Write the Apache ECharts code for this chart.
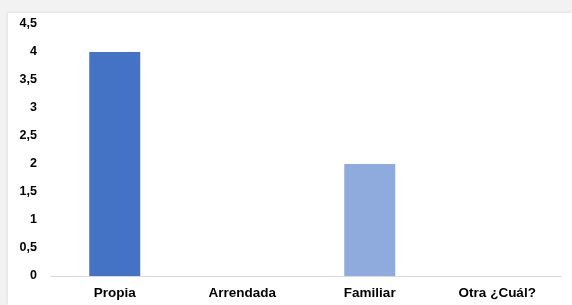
<!DOCTYPE html>
<html>
<head>
<meta charset="utf-8">
<script src="https://cdn.jsdelivr.net/npm/echarts@6/dist/echarts.min.js"></script>
<style>
  html, body { margin: 0; padding: 0; background: #f2f2f2; }
  #panel {
    position: absolute; left: 8px; top: 13px; width: 564px; height: 292px;
    background: #ffffff; box-shadow: -1px -1px 2px #e2e2e2;
  }
  #chart { position: absolute; left: 0; top: 0; width: 572px; height: 305px; }
</style>
</head>
<body>
<div id="panel"></div>
<div id="chart"></div>
<script>
// categorias y valores
const categories = ['Propia', 'Arrendada', 'Familiar', 'Otra ¿Cuál?'];
const values = [4, 0, 2, 0];
const barColors = ['#4472C4', '#4472C4', '#8FAADC', '#8FAADC'];

const chart = echarts.init(document.getElementById('chart'));

const option = {
  backgroundColor: 'transparent',
  animation: false,
  grid: { left: 51, right: 11, top: 24, bottom: 29, containLabel: false },
  xAxis: {
    type: 'category',
    data: categories,
    axisLine: { lineStyle: { color: '#d9d9d9', width: 1 } },
    axisTick: { show: false },
    axisLabel: {
      margin: 10,
      interval: 0,
      fontFamily: 'Liberation Sans',
      fontWeight: 'bold',
      fontSize: 13.5,
      color: '#000000'
    }
  },
  yAxis: {
    type: 'value',
    min: 0,
    max: 4.5,
    interval: 0.5,
    splitLine: { show: false },
    axisLine: { show: false },
    axisTick: { show: false },
    axisLabel: {
      margin: 14,
      fontFamily: 'Liberation Sans',
      fontWeight: 'bold',
      fontSize: 12.5,
      color: '#000000',
      formatter: v => String(v).replace('.', ',')
    }
  },
  series: [{
    type: 'bar',
    barWidth: '40%',
    data: values.map((v, i) => ({ value: v, itemStyle: { color: barColors[i] } }))
  }]
};

chart.setOption(option);
</script>
</body>
</html>
